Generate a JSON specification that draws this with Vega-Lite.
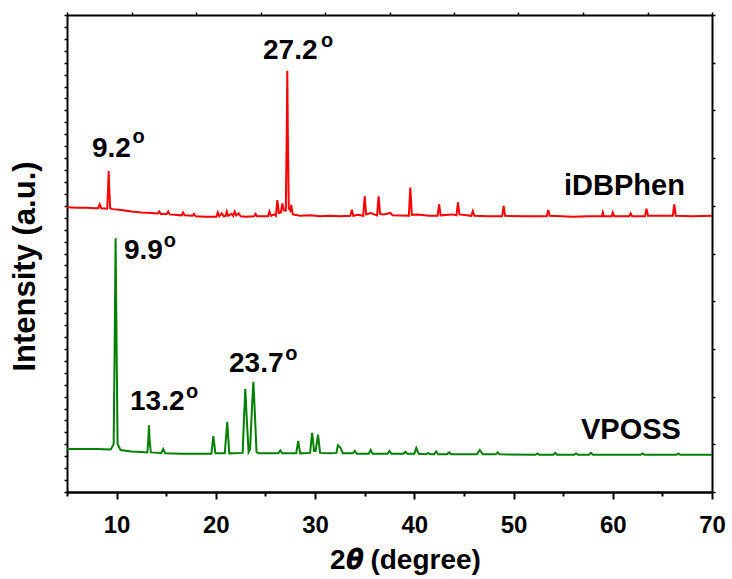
{
  "$schema": "https://vega.github.io/schema/vega-lite/v6.json",
  "width": 645,
  "height": 477,
  "autosize": "none",
  "padding": {"left": 67, "top": 15, "right": 20, "bottom": 87},
  "background": "white",
  "config": {
    "view": {"stroke": null},
    "axis": {
      "domainColor": "black", "domainWidth": 2, "tickColor": "black", "tickWidth": 2,
      "grid": false, "labelFont": "Liberation Sans", "titleFont": "Liberation Sans",
      "labelFontWeight": "bold", "titleFontWeight": "bold", "labelColor": "black", "titleColor": "black"
    },
    "text": {"font": "Liberation Sans", "fontWeight": "bold", "color": "black"}
  },
  "datasets": {
    "xrd": [
      {"s":"iDBPhen","x":5.0,"y":5.97},{"s":"iDBPhen","x":6.0,"y":5.96},{"s":"iDBPhen","x":7.0,"y":5.96},{"s":"iDBPhen","x":7.8,"y":5.95},
      {"s":"iDBPhen","x":8.15,"y":5.95},{"s":"iDBPhen","x":8.3,"y":6.03},{"s":"iDBPhen","x":8.45,"y":5.95},{"s":"iDBPhen","x":9.05,"y":5.94},
      {"s":"iDBPhen","x":9.15,"y":6.4},{"s":"iDBPhen","x":9.2,"y":6.73},{"s":"iDBPhen","x":9.25,"y":6.4},{"s":"iDBPhen","x":9.35,"y":5.95},
      {"s":"iDBPhen","x":9.6,"y":5.93},{"s":"iDBPhen","x":10.5,"y":5.91},{"s":"iDBPhen","x":11.5,"y":5.88},{"s":"iDBPhen","x":12.5,"y":5.86},
      {"s":"iDBPhen","x":13.5,"y":5.85},{"s":"iDBPhen","x":14.15,"y":5.84},{"s":"iDBPhen","x":14.3,"y":5.88},{"s":"iDBPhen","x":14.45,"y":5.83},
      {"s":"iDBPhen","x":15.05,"y":5.83},{"s":"iDBPhen","x":15.2,"y":5.88},{"s":"iDBPhen","x":15.35,"y":5.82},{"s":"iDBPhen","x":16.55,"y":5.8},
      {"s":"iDBPhen","x":16.7,"y":5.86},{"s":"iDBPhen","x":16.85,"y":5.8},{"s":"iDBPhen","x":17.65,"y":5.79},{"s":"iDBPhen","x":17.8,"y":5.83},
      {"s":"iDBPhen","x":17.95,"y":5.78},{"s":"iDBPhen","x":19.0,"y":5.77},{"s":"iDBPhen","x":20.05,"y":5.77},{"s":"iDBPhen","x":20.2,"y":5.86},
      {"s":"iDBPhen","x":20.35,"y":5.78},{"s":"iDBPhen","x":20.6,"y":5.84},{"s":"iDBPhen","x":20.8,"y":5.78},{"s":"iDBPhen","x":21.0,"y":5.79},
      {"s":"iDBPhen","x":21.1,"y":5.88},{"s":"iDBPhen","x":21.25,"y":5.79},{"s":"iDBPhen","x":21.6,"y":5.83},{"s":"iDBPhen","x":21.75,"y":5.79},
      {"s":"iDBPhen","x":21.9,"y":5.88},{"s":"iDBPhen","x":22.05,"y":5.8},{"s":"iDBPhen","x":22.3,"y":5.84},{"s":"iDBPhen","x":22.5,"y":5.78},
      {"s":"iDBPhen","x":23.0,"y":5.77},{"s":"iDBPhen","x":23.85,"y":5.78},{"s":"iDBPhen","x":24.0,"y":5.83},{"s":"iDBPhen","x":24.15,"y":5.78},
      {"s":"iDBPhen","x":25.25,"y":5.78},{"s":"iDBPhen","x":25.4,"y":5.88},{"s":"iDBPhen","x":25.55,"y":5.79},{"s":"iDBPhen","x":25.9,"y":5.82},
      {"s":"iDBPhen","x":26.05,"y":5.79},{"s":"iDBPhen","x":26.2,"y":6.12},{"s":"iDBPhen","x":26.35,"y":5.85},{"s":"iDBPhen","x":26.55,"y":5.86},
      {"s":"iDBPhen","x":26.7,"y":6.05},{"s":"iDBPhen","x":26.85,"y":5.9},{"s":"iDBPhen","x":27.05,"y":5.9},{"s":"iDBPhen","x":27.15,"y":7.6},
      {"s":"iDBPhen","x":27.2,"y":8.83},{"s":"iDBPhen","x":27.25,"y":7.6},{"s":"iDBPhen","x":27.35,"y":5.95},{"s":"iDBPhen","x":27.5,"y":5.9},
      {"s":"iDBPhen","x":27.6,"y":6.02},{"s":"iDBPhen","x":27.75,"y":5.82},{"s":"iDBPhen","x":28.5,"y":5.79},{"s":"iDBPhen","x":29.5,"y":5.8},
      {"s":"iDBPhen","x":30.5,"y":5.78},{"s":"iDBPhen","x":31.5,"y":5.79},{"s":"iDBPhen","x":32.5,"y":5.78},{"s":"iDBPhen","x":33.55,"y":5.79},
      {"s":"iDBPhen","x":33.7,"y":5.92},{"s":"iDBPhen","x":33.85,"y":5.79},{"s":"iDBPhen","x":34.3,"y":5.81},{"s":"iDBPhen","x":34.85,"y":5.79},
      {"s":"iDBPhen","x":35.0,"y":6.2},{"s":"iDBPhen","x":35.15,"y":5.82},{"s":"iDBPhen","x":35.6,"y":5.85},{"s":"iDBPhen","x":36.25,"y":5.8},
      {"s":"iDBPhen","x":36.4,"y":6.2},{"s":"iDBPhen","x":36.55,"y":5.83},{"s":"iDBPhen","x":36.9,"y":5.82},{"s":"iDBPhen","x":37.6,"y":5.85},
      {"s":"iDBPhen","x":37.8,"y":5.8},{"s":"iDBPhen","x":39.45,"y":5.79},{"s":"iDBPhen","x":39.6,"y":6.38},{"s":"iDBPhen","x":39.75,"y":5.81},
      {"s":"iDBPhen","x":40.3,"y":5.82},{"s":"iDBPhen","x":41.5,"y":5.79},{"s":"iDBPhen","x":42.35,"y":5.79},{"s":"iDBPhen","x":42.5,"y":6.03},
      {"s":"iDBPhen","x":42.65,"y":5.8},{"s":"iDBPhen","x":43.8,"y":5.82},{"s":"iDBPhen","x":44.25,"y":5.8},{"s":"iDBPhen","x":44.4,"y":6.07},
      {"s":"iDBPhen","x":44.55,"y":5.82},{"s":"iDBPhen","x":45.75,"y":5.79},{"s":"iDBPhen","x":45.9,"y":5.89},{"s":"iDBPhen","x":46.05,"y":5.79},
      {"s":"iDBPhen","x":47.5,"y":5.78},{"s":"iDBPhen","x":48.85,"y":5.78},{"s":"iDBPhen","x":49.0,"y":6.0},{"s":"iDBPhen","x":49.15,"y":5.79},
      {"s":"iDBPhen","x":51.0,"y":5.78},{"s":"iDBPhen","x":53.35,"y":5.78},{"s":"iDBPhen","x":53.5,"y":5.91},{"s":"iDBPhen","x":53.65,"y":5.79},
      {"s":"iDBPhen","x":56.0,"y":5.77},{"s":"iDBPhen","x":57.5,"y":5.78},{"s":"iDBPhen","x":58.9,"y":5.78},{"s":"iDBPhen","x":59.0,"y":5.86},
      {"s":"iDBPhen","x":59.1,"y":5.78},{"s":"iDBPhen","x":59.9,"y":5.78},{"s":"iDBPhen","x":60.0,"y":5.86},{"s":"iDBPhen","x":60.15,"y":5.78},
      {"s":"iDBPhen","x":61.65,"y":5.78},{"s":"iDBPhen","x":61.8,"y":5.84},{"s":"iDBPhen","x":61.95,"y":5.78},{"s":"iDBPhen","x":63.25,"y":5.78},
      {"s":"iDBPhen","x":63.4,"y":5.94},{"s":"iDBPhen","x":63.55,"y":5.79},{"s":"iDBPhen","x":66.05,"y":5.79},{"s":"iDBPhen","x":66.2,"y":6.03},
      {"s":"iDBPhen","x":66.35,"y":5.79},{"s":"iDBPhen","x":68.0,"y":5.78},{"s":"iDBPhen","x":70.0,"y":5.79},
      {"s":"VPOSS","x":5.0,"y":0.9},{"s":"VPOSS","x":6.5,"y":0.9},{"s":"VPOSS","x":8.0,"y":0.9},{"s":"VPOSS","x":9.4,"y":0.89},
      {"s":"VPOSS","x":9.7,"y":1.0},{"s":"VPOSS","x":9.8,"y":3.0},{"s":"VPOSS","x":9.9,"y":5.32},{"s":"VPOSS","x":10.0,"y":3.0},
      {"s":"VPOSS","x":10.1,"y":1.0},{"s":"VPOSS","x":10.4,"y":0.88},{"s":"VPOSS","x":11.5,"y":0.85},{"s":"VPOSS","x":12.5,"y":0.84},
      {"s":"VPOSS","x":13.1,"y":0.83},{"s":"VPOSS","x":13.2,"y":1.1},{"s":"VPOSS","x":13.26,"y":1.4},{"s":"VPOSS","x":13.32,"y":1.1},
      {"s":"VPOSS","x":13.45,"y":0.83},{"s":"VPOSS","x":14.5,"y":0.82},{"s":"VPOSS","x":14.7,"y":0.9},{"s":"VPOSS","x":14.9,"y":0.81},
      {"s":"VPOSS","x":16.5,"y":0.8},{"s":"VPOSS","x":18.0,"y":0.8},{"s":"VPOSS","x":19.55,"y":0.8},{"s":"VPOSS","x":19.75,"y":1.17},
      {"s":"VPOSS","x":19.95,"y":0.81},{"s":"VPOSS","x":20.9,"y":0.81},{"s":"VPOSS","x":21.15,"y":1.47},{"s":"VPOSS","x":21.35,"y":0.81},
      {"s":"VPOSS","x":22.7,"y":0.82},{"s":"VPOSS","x":22.85,"y":1.6},{"s":"VPOSS","x":22.97,"y":2.16},{"s":"VPOSS","x":23.1,"y":1.6},
      {"s":"VPOSS","x":23.3,"y":0.84},{"s":"VPOSS","x":23.45,"y":0.9},{"s":"VPOSS","x":23.65,"y":1.8},{"s":"VPOSS","x":23.78,"y":2.31},
      {"s":"VPOSS","x":23.9,"y":1.8},{"s":"VPOSS","x":24.1,"y":0.84},{"s":"VPOSS","x":24.3,"y":0.81},{"s":"VPOSS","x":26.3,"y":0.81},
      {"s":"VPOSS","x":26.5,"y":0.87},{"s":"VPOSS","x":26.7,"y":0.81},{"s":"VPOSS","x":28.1,"y":0.81},{"s":"VPOSS","x":28.3,"y":1.07},
      {"s":"VPOSS","x":28.5,"y":0.81},{"s":"VPOSS","x":29.5,"y":0.82},{"s":"VPOSS","x":29.7,"y":1.24},{"s":"VPOSS","x":29.9,"y":0.86},
      {"s":"VPOSS","x":30.05,"y":0.86},{"s":"VPOSS","x":30.3,"y":1.2},{"s":"VPOSS","x":30.5,"y":0.82},{"s":"VPOSS","x":31.5,"y":0.81},
      {"s":"VPOSS","x":32.15,"y":0.82},{"s":"VPOSS","x":32.3,"y":0.98},{"s":"VPOSS","x":32.55,"y":0.93},{"s":"VPOSS","x":32.8,"y":0.81},
      {"s":"VPOSS","x":33.8,"y":0.81},{"s":"VPOSS","x":34.0,"y":0.86},{"s":"VPOSS","x":34.2,"y":0.8},{"s":"VPOSS","x":35.4,"y":0.8},
      {"s":"VPOSS","x":35.6,"y":0.88},{"s":"VPOSS","x":35.8,"y":0.8},{"s":"VPOSS","x":37.3,"y":0.8},{"s":"VPOSS","x":37.5,"y":0.86},
      {"s":"VPOSS","x":37.7,"y":0.8},{"s":"VPOSS","x":38.9,"y":0.8},{"s":"VPOSS","x":39.1,"y":0.84},{"s":"VPOSS","x":39.3,"y":0.8},
      {"s":"VPOSS","x":40.0,"y":0.8},{"s":"VPOSS","x":40.2,"y":0.92},{"s":"VPOSS","x":40.45,"y":0.8},{"s":"VPOSS","x":41.2,"y":0.79},
      {"s":"VPOSS","x":41.4,"y":0.82},{"s":"VPOSS","x":41.6,"y":0.79},{"s":"VPOSS","x":42.0,"y":0.79},{"s":"VPOSS","x":42.2,"y":0.85},
      {"s":"VPOSS","x":42.4,"y":0.79},{"s":"VPOSS","x":43.3,"y":0.79},{"s":"VPOSS","x":43.5,"y":0.83},{"s":"VPOSS","x":43.7,"y":0.79},
      {"s":"VPOSS","x":46.3,"y":0.79},{"s":"VPOSS","x":46.6,"y":0.88},{"s":"VPOSS","x":46.9,"y":0.79},{"s":"VPOSS","x":48.2,"y":0.79},
      {"s":"VPOSS","x":48.4,"y":0.83},{"s":"VPOSS","x":48.6,"y":0.79},{"s":"VPOSS","x":52.2,"y":0.78},{"s":"VPOSS","x":52.4,"y":0.81},
      {"s":"VPOSS","x":52.6,"y":0.78},{"s":"VPOSS","x":54.0,"y":0.78},{"s":"VPOSS","x":54.2,"y":0.82},{"s":"VPOSS","x":54.4,"y":0.78},
      {"s":"VPOSS","x":56.1,"y":0.78},{"s":"VPOSS","x":56.3,"y":0.81},{"s":"VPOSS","x":56.5,"y":0.78},{"s":"VPOSS","x":57.6,"y":0.78},
      {"s":"VPOSS","x":57.8,"y":0.82},{"s":"VPOSS","x":58.0,"y":0.78},{"s":"VPOSS","x":62.8,"y":0.78},{"s":"VPOSS","x":63.0,"y":0.81},
      {"s":"VPOSS","x":63.2,"y":0.78},{"s":"VPOSS","x":66.4,"y":0.78},{"s":"VPOSS","x":66.6,"y":0.81},{"s":"VPOSS","x":66.8,"y":0.78},
      {"s":"VPOSS","x":70.0,"y":0.78}
    ],
    "peaks": [
      {"t":"27.2","x":24.75,"y":9.08},
      {"t":"9.2","x":7.52,"y":7.02},
      {"t":"9.9","x":10.74,"y":4.88},
      {"t":"13.2","x":11.35,"y":1.72},
      {"t":"23.7","x":21.33,"y":2.52}
    ],
    "sup": [
      {"t":"o","x":30.6,"y":9.33},
      {"t":"o","x":11.6,"y":7.32},
      {"t":"o","x":14.75,"y":5.14},
      {"t":"o","x":17.0,"y":1.97},
      {"t":"o","x":27.0,"y":2.77}
    ],
    "names": [
      {"t":"iDBPhen","x":55.09,"y":6.23},
      {"t":"VPOSS","x":56.8,"y":1.11}
    ]
  },
  "resolve": {"axis": {"x": "independent", "y": "independent"}},
  "layer": [
    {
      "data": {"name": "xrd"},
      "mark": {"type": "line", "strokeWidth": 2},
      "encoding": {
        "x": {"field": "x", "type": "quantitative",
          "scale": {"domain": [5, 70], "nice": false, "zero": false},
          "axis": {"orient": "bottom", "values": [10, 20, 30, 40, 50, 60, 70], "tickSize": 7,
            "labelFontSize": 24, "labelPadding": 14, "labelFlush": false,
            "title": "2𝜽 (degree)", "titleFontSize": 28, "titleX": 338, "titleY": 76,
            "titleAlign": "center", "titleBaseline": "alphabetic"}},
        "y": {"field": "y", "type": "quantitative",
          "scale": {"domain": [0, 10], "nice": false, "zero": false},
          "axis": {"orient": "left", "labels": false, "tickSize": 3, "tickWidth": 1.5,
            "values": [0,0.25,0.5,0.75,1,1.25,1.5,1.75,2,2.25,2.5,2.75,3,3.25,3.5,3.75,4,4.25,4.5,4.75,5,5.25,5.5,5.75,6,6.25,6.5,6.75,7,7.25,7.5,7.75,8,8.25,8.5,8.75,9,9.25,9.5,9.75,10],
            "title": "Intensity (a.u.)", "titleFontSize": 31, "titleX": -33, "titleY": 251,
            "titleAngle": 270, "titleAlign": "center", "titleBaseline": "alphabetic"}},
        "color": {"field": "s", "type": "nominal",
          "scale": {"domain": ["iDBPhen", "VPOSS"], "range": ["#ff0000", "#008000"]},
          "legend": null}
      }
    },
    {
      "data": {"name": "peaks"},
      "mark": {"type": "text", "align": "left", "baseline": "alphabetic", "fontSize": 28},
      "encoding": {
        "x": {"field": "x", "type": "quantitative",
          "axis": {"orient": "top", "labels": false, "title": null, "tickSize": 3, "tickWidth": 1.5,
            "values": [5, 11.5, 18, 24.5, 31, 37.5, 44, 50.5, 57, 63.5, 70]}},
        "y": {"field": "y", "type": "quantitative",
          "axis": {"orient": "right", "labels": false, "title": null, "tickSize": 3, "tickWidth": 1.5,
            "values": [0, 1, 2, 3, 4, 5, 6, 7, 8, 9, 10]}},
        "text": {"field": "t"}
      }
    },
    {
      "data": {"name": "sup"},
      "mark": {"type": "text", "align": "left", "baseline": "alphabetic", "fontSize": 20},
      "encoding": {
        "x": {"field": "x", "type": "quantitative",
          "axis": {"orient": "bottom", "labels": false, "title": null, "tickSize": 4,
            "values": [5, 15, 25, 35, 45, 55, 65]}},
        "y": {"field": "y", "type": "quantitative", "axis": null},
        "text": {"field": "t"}
      }
    },
    {
      "data": {"name": "names"},
      "mark": {"type": "text", "align": "left", "baseline": "alphabetic", "fontSize": 29},
      "encoding": {
        "x": {"field": "x", "type": "quantitative", "axis": null},
        "y": {"field": "y", "type": "quantitative", "axis": null},
        "text": {"field": "t"}
      }
    }
  ]
}
